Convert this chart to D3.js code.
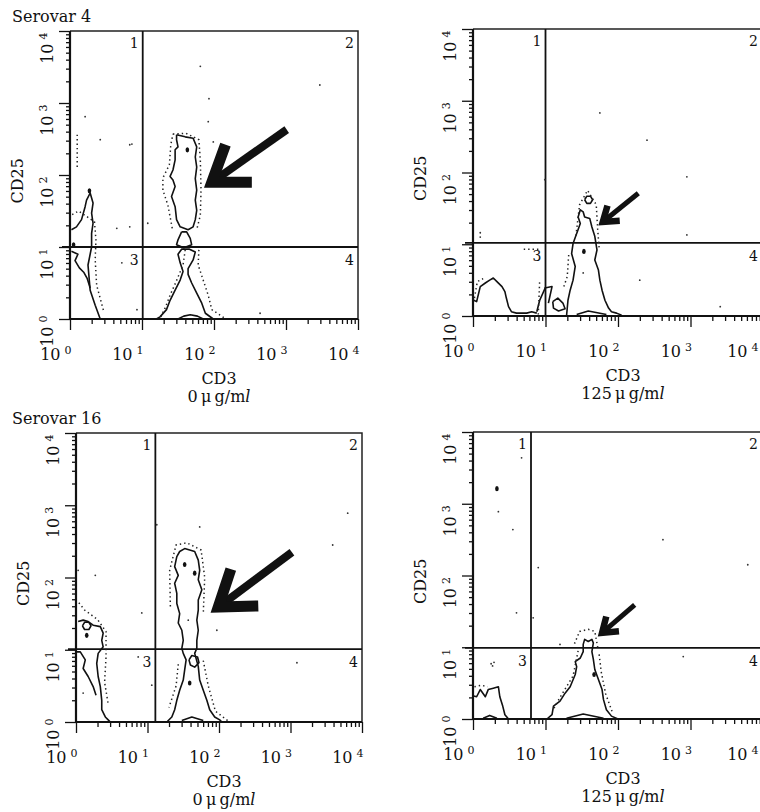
<!DOCTYPE html>
<html>
<head>
<meta charset="utf-8">
<script src="https://d3js.org/d3.v7.min.js"></script>
<style>
    body {
        margin: 0;
        background: #fff;
    }
    text {
        font-family: "DejaVu Serif", "Liberation Serif", serif;
        fill: #111;
    }
</style>
</head>
<body>
<svg id="fig" width="760" height="812"></svg>

<script>
    // ---- data ----
    // axis decades (fluorescence, log scale)
    const decades = [1, 10, 100, 1000, 10000];
    const decadeExp = ["0", "1", "2", "3", "4"];
    const quadrantNums = ["1", "2", "3", "4"];
    const serovars = ["Serovar 4", "", "Serovar 16", ""];
    const doses = ["0", "125", "0", "125"];

    // all points below are [log10 CD3, log10 CD25]
    // quadrant cursors
    const gates = [[1.01, 1.0], [1.0, 1.02], [1.11, 1.01], [0.80, 0.99]];

    // Serovar 4, 0 ug/ml
    const p1Contours = [
        [[1.48, 2.56], [1.60, 2.53], [1.71, 2.51], [1.76, 2.39], [1.74, 2.25], [1.76, 2.11], [1.74, 1.95], [1.76, 1.79], [1.74, 1.65], [1.76, 1.51], [1.74, 1.38], [1.71, 1.28], [1.64, 1.24], [1.53, 1.28], [1.48, 1.38], [1.46, 1.56], [1.41, 1.70], [1.46, 1.84], [1.43, 1.93], [1.39, 1.98], [1.43, 2.07], [1.46, 2.21], [1.46, 2.35], [1.50, 2.39], [1.48, 2.49], [1.48, 2.56]],
        [[1.55, 1.21], [1.50, 1.10], [1.48, 1.03], [1.58, 0.99], [1.69, 1.03], [1.67, 1.12], [1.62, 1.21], [1.55, 1.21]],
        [[1.20, 0], [1.25, 0.03], [1.34, 0.13], [1.39, 0.26], [1.46, 0.40], [1.53, 0.54], [1.57, 0.66], [1.53, 0.78], [1.50, 0.90], [1.55, 0.97], [1.66, 0.97], [1.74, 0.93], [1.71, 0.82], [1.64, 0.70], [1.64, 0.62], [1.69, 0.50], [1.76, 0.36], [1.83, 0.22], [1.88, 0.08], [1.99, 0]],
        [[1.50, 0], [1.58, 0.04], [1.67, 0.06], [1.77, 0.04], [1.85, 0]],
        [[0.02, 1.24], [0.09, 1.28], [0.16, 1.38], [0.21, 1.56], [0.23, 1.65], [0.28, 1.75], [0.32, 1.61], [0.30, 1.47], [0.32, 1.33], [0.30, 1.19], [0.30, 1.0], [0.25, 0.75], [0.28, 0.40], [0.35, 0.19], [0.42, 0]],
        [[0.02, 0.94], [0.11, 0.90], [0.07, 0.81], [0.13, 0.71], [0.19, 0.65], [0.24, 0.56], [0.28, 0.43]]
    ];
    const p1Dotted = [
        [[1.43, 2.57], [1.61, 2.58], [1.79, 2.49], [1.81, 2.21], [1.82, 1.79], [1.81, 1.44], [1.76, 1.24]],
        [[1.42, 1.26], [1.36, 1.58], [1.29, 1.79], [1.29, 1.96], [1.38, 2.14], [1.40, 2.42], [1.43, 2.57]],
        [[1.60, 0.96], [1.57, 0.75], [1.47, 0.51], [1.39, 0.33], [1.32, 0.15], [1.25, 0.01]],
        [[1.79, 0.96], [1.78, 0.75], [1.85, 0.54], [1.92, 0.33], [1.97, 0.13], [2.15, 0.01]],
        [[0.03, 1.45], [0.12, 1.50], [0.34, 1.35], [0.36, 1.10], [0.35, 0.82], [0.37, 0.47], [0.47, 0.10]],
        [[0.10, 2.56], [0.10, 2.07]]
    ];
    const p1Events = [[1.93, 3.06], [1.92, 2.74], [0.21, 2.81], [0.86, 2.43], [1.99, 2.46], [0.42, 2.49], [0.83, 2.42], [1.81, 3.51], [2.64, 0.08], [0.65, 1.26], [0.83, 1.28], [0.72, 0.78], [1.08, 1.33], [0.93, 0.13], [3.47, 3.25]];
    const p1Blots = [[0.27, 1.78], [0.05, 1.03], [1.63, 2.35]];

    // Serovar 4, 125 ug/ml
    const p2Contours = [
        [[1.29, 0], [1.31, 0.22], [1.34, 0.36], [1.38, 0.50], [1.41, 0.69], [1.36, 0.87], [1.38, 1.01], [1.43, 1.15], [1.48, 1.29], [1.45, 1.38], [1.48, 1.48], [1.52, 1.45], [1.54, 1.38], [1.61, 1.36], [1.64, 1.24], [1.68, 1.11], [1.71, 0.92], [1.68, 0.78], [1.73, 0.64], [1.75, 0.50], [1.78, 0.36], [1.82, 0.22], [1.87, 0.11], [1.91, 0.06], [1.98, 0.04], [2.05, 0.01]],
        [[1.54, 1.62], [1.57, 1.67], [1.62, 1.67], [1.65, 1.62], [1.62, 1.57], [1.57, 1.57], [1.54, 1.62]],
        [[0.99, 0.39], [1.09, 0.41], [1.04, 0.18]],
        [[0.88, 0.06], [0.92, 0.22], [1.0, 0.40]],
        [[1.10, 0.20], [1.17, 0.25], [1.24, 0.18], [1.27, 0.10], [1.18, 0.07], [1.11, 0.11], [1.10, 0.20]],
        [[0.01, 0.22], [0.05, 0.20], [0.10, 0.41], [0.17, 0.46], [0.23, 0.50], [0.28, 0.53], [0.33, 0.48], [0.40, 0.41], [0.44, 0.34], [0.46, 0.25], [0.49, 0.13], [0.53, 0.06], [0.60, 0.04], [0.74, 0.04], [0.81, 0.06], [0.88, 0.04]],
        [[1.43, 0.02], [1.59, 0.07], [1.84, 0.02]]
    ];
    const p2Dotted = [
        [[1.42, 1.12], [1.47, 1.55], [1.58, 1.75], [1.70, 1.55], [1.72, 1.20], [1.74, 0.95]],
        [[1.32, 0.85], [1.30, 0.55], [1.25, 0.40]],
        [[0.90, 0.02], [0.91, 0.25], [0.92, 0.50]],
        [[0.02, 0.25], [0.06, 0.48], [0.14, 0.52]],
        [[0.70, 0.93], [0.92, 0.93]]
    ];
    const p2Events = [[1.75, 2.83], [2.95, 1.94], [2.40, 2.45], [0.99, 1.90], [2.30, 0.50], [3.41, 0.13], [2.95, 1.13], [1.52, 0.60], [1.52, 0.89], [0.10, 1.16], [0.10, 1.10]];
    const p2Blots = [[1.53, 0.90]];

    // Serovar 16, 0 ug/ml
    const p3Contours = [
        [[1.27, 0], [1.34, 0.07], [1.38, 0.17], [1.41, 0.30], [1.45, 0.44], [1.50, 0.58], [1.52, 0.72], [1.54, 0.86], [1.50, 0.95], [1.48, 1.02], [1.50, 1.13], [1.48, 1.27], [1.43, 1.37], [1.45, 1.50], [1.41, 1.64], [1.41, 1.78], [1.38, 1.92], [1.43, 2.03], [1.38, 2.15], [1.41, 2.29], [1.45, 2.36], [1.52, 2.40], [1.66, 2.36], [1.71, 2.24], [1.73, 2.10], [1.71, 1.97], [1.76, 1.83], [1.71, 1.69], [1.71, 1.55], [1.69, 1.41], [1.71, 1.27], [1.69, 1.13], [1.69, 1.02], [1.66, 0.95], [1.71, 0.77], [1.73, 0.58], [1.78, 0.44], [1.83, 0.30], [1.87, 0.17], [1.94, 0.07], [2.01, 0.03], [2.04, 0]],
        [[1.58, 0.86], [1.62, 0.92], [1.70, 0.90], [1.72, 0.82], [1.66, 0.76], [1.60, 0.79], [1.58, 0.86]],
        [[1.48, 0.02], [1.62, 0.07], [1.78, 0.02]],
        [[0.03, 1.39], [0.10, 1.41], [0.17, 1.39], [0.24, 1.34], [0.34, 1.32], [0.38, 1.23], [0.36, 1.13], [0.38, 1.04], [0.31, 0.95], [0.29, 0.81], [0.31, 0.63], [0.34, 0.49], [0.36, 0.30], [0.36, 0.17], [0.41, 0.07], [0.45, 0.03], [0.48, 0]],
        [[0.01, 0.97], [0.06, 0.97], [0.13, 0.86], [0.10, 0.74], [0.17, 0.63], [0.24, 0.49], [0.28, 0.37]],
        [[0.09, 1.33], [0.12, 1.38], [0.18, 1.38], [0.21, 1.33], [0.18, 1.28], [0.12, 1.28], [0.09, 1.33]]
    ];
    const p3Dotted = [
        [[1.32, 1.60], [1.31, 2.10], [1.40, 2.45], [1.55, 2.48], [1.75, 2.38], [1.80, 2.00], [1.78, 1.50]],
        [[1.78, 0.85], [1.85, 0.50], [1.95, 0.15], [2.12, 0.02]],
        [[1.43, 0.80], [1.40, 0.50], [1.30, 0.20]],
        [[0.04, 1.65], [0.12, 1.55], [0.30, 1.42], [0.42, 1.25], [0.42, 0.90], [0.40, 0.55], [0.45, 0.25]]
    ];
    const p3Events = [[3.80, 2.89], [0.03, 2.10], [1.13, 2.73], [3.59, 2.45], [0.27, 2.03], [0.92, 1.51], [0.87, 0.90], [1.57, 1.41], [0.10, 0.40], [1.97, 1.27], [3.09, 0.82], [1.06, 0.51], [1.73, 2.70]];
    const p3Blots = [[1.66, 2.06], [1.52, 2.18], [1.59, 0.54], [0.15, 1.20]];

    // Serovar 16, 125 ug/ml
    const p4Contours = [
        [[1.02, 0], [1.09, 0.06], [1.11, 0.18], [1.20, 0.25], [1.27, 0.36], [1.34, 0.45], [1.41, 0.62], [1.43, 0.73], [1.41, 0.80], [1.48, 0.85], [1.52, 0.94], [1.52, 1.04], [1.54, 1.11], [1.59, 1.08], [1.64, 1.11], [1.66, 1.06], [1.64, 0.94], [1.66, 0.83], [1.68, 0.69], [1.73, 0.55], [1.78, 0.41], [1.80, 0.27], [1.84, 0.13], [1.91, 0.04], [2.00, 0]],
        [[0.01, 0.32], [0.05, 0.31], [0.10, 0.41], [0.17, 0.31], [0.21, 0.41], [0.28, 0.43], [0.35, 0.45], [0.37, 0.31], [0.41, 0.18], [0.44, 0.06], [0.49, 0]],
        [[0.14, 0.01], [0.23, 0.05], [0.33, 0.01]],
        [[1.29, 0.01], [1.52, 0.07], [1.80, 0.01]]
    ];
    const p4Dotted = [
        [[1.40, 1.05], [1.47, 1.22], [1.59, 1.25], [1.68, 1.22], [1.72, 1.0]],
        [[1.45, 0.95], [1.38, 0.60], [1.20, 0.30], [1.10, 0.12]],
        [[1.74, 0.90], [1.77, 0.65], [1.83, 0.35], [1.92, 0.10]],
        [[0.02, 0.45], [0.12, 0.47], [0.20, 0.45]]
    ];
    const p4Events = [[0.35, 2.89], [0.67, 3.64], [0.55, 2.64], [0.90, 2.11], [2.62, 2.50], [3.79, 2.15], [0.83, 1.41], [0.60, 1.48], [1.20, 1.04], [2.90, 0.87], [0.25, 0.77], [0.29, 0.79], [0.27, 0.74]];
    const p4Blots = [[0.33, 3.21], [1.67, 0.62]];

    // arrows pointing at the CD3+ population: tip, tail
    const arrowTips = [[1.97, 1.90], [1.79, 1.31], [1.99, 1.59], [1.78, 1.20]];
    const arrowTails = [[3.01, 2.63], [2.28, 1.71], [3.02, 2.35], [2.23, 1.59]];

    const contours = [p1Contours, p2Contours, p3Contours, p4Contours];
    const dotted = [p1Dotted, p2Dotted, p3Dotted, p4Dotted];
    const events = [p1Events, p2Events, p3Events, p4Events];
    const blots = [p1Blots, p2Blots, p3Blots, p4Blots];

    // ---- layout ----
    const W = 760;
    const boxes = [
        { x: 70, y: 31, w: 288, h: 288 },
        { x: 473, y: 29, w: 290, h: 287 },
        { x: 76, y: 433, w: 286, h: 289 },
        { x: 473, y: 432, w: 290, h: 287 }
    ];
    // arrow head: [arm length, arm width, shaft width]
    const arrowStyle = [[40, 11, 8], [17, 6.5, 5], [40, 11, 8], [17, 6.5, 5]];

    const svg = d3.select("#fig");

    // "10" with a raised exponent
    function powLabel(sel) {
        sel.each(function(d, k) {
            const t = d3.select(this);
            t.append("tspan").text("10");
            t.append("tspan").attr("dx", 4).attr("dy", -6).attr("font-size", 11).text(decadeExp[k]);
        });
    }

    function drawPanel(i) {
        const b = boxes[i];
        const x = d3.scaleLog().domain([1, 1e4]).range([b.x, b.x + b.w]);
        const y = d3.scaleLog().domain([1, 1e4]).range([b.y + b.h, b.y]);
        const px = d => x(Math.pow(10, d[0]));
        const py = d => y(Math.pow(10, d[1]));
        const g = svg.append("g");

        const minor = x.ticks().filter(v => !decades.includes(v));

        // minor ticks
        g.append("g")
            .attr("transform", "translate(0," + (b.y + b.h) + ")")
            .call(d3.axisBottom(x).tickValues(minor).tickSize(5).tickFormat(""))
            .call(a => a.select(".domain").remove());
        g.append("g")
            .attr("transform", "translate(" + b.x + ",0)")
            .call(d3.axisLeft(y).tickValues(minor).tickSize(4).tickFormat(""))
            .call(a => a.select(".domain").remove());

        // major ticks + labels
        const xa = g.append("g")
            .attr("transform", "translate(0," + (b.y + b.h) + ")")
            .call(d3.axisBottom(x).tickValues(decades).tickSize(11).tickFormat(""))
            .call(a => a.select(".domain").remove());
        const ya = g.append("g")
            .attr("transform", "translate(" + b.x + ",0)")
            .call(d3.axisLeft(y).tickValues(decades).tickSize(11).tickFormat(""))
            .call(a => a.select(".domain").remove());
        g.selectAll(".tick line").attr("stroke", "#111").attr("stroke-width", 1.3);

        xa.selectAll(".tick").append("text")
            .attr("x", d => Math.min(1, W - 2 - x(d)))
            .attr("y", 41)
            .attr("text-anchor", "end")
            .attr("font-size", 16)
            .call(powLabel);
        ya.selectAll(".tick").append("text")
            .attr("transform", (d, k) => "translate(-17," + (k === 0 ? -4 : 1) + ") rotate(-90)")
            .attr("text-anchor", "end")
            .attr("font-size", 16)
            .call(powLabel);

        // frame
        g.append("path")
            .attr("d", "M" + b.x + "," + b.y + "H" + (b.x + b.w) + "V" + (b.y + b.h))
            .attr("fill", "none").attr("stroke", "#222").attr("stroke-width", 1.5);
        g.append("path")
            .attr("d", "M" + b.x + "," + b.y + "V" + (b.y + b.h) + "H" + (b.x + b.w))
            .attr("fill", "none").attr("stroke", "#111").attr("stroke-width", 2.2);

        // quadrant cursors
        const gx = px(gates[i]), gy = py(gates[i]);
        g.append("line").attr("x1", gx).attr("x2", gx).attr("y1", b.y).attr("y2", b.y + b.h)
            .attr("stroke", "#111").attr("stroke-width", 1.8);
        g.append("line").attr("x1", b.x - 8).attr("x2", b.x + b.w).attr("y1", gy).attr("y2", gy)
            .attr("stroke", "#111").attr("stroke-width", 1.8);

        const rx = Math.min(b.x + b.w - 4, W - 2);
        const qpos = [[gx - 4, b.y + 17], [rx, b.y + 17], [gx - 4, gy + 18], [rx, gy + 18]];
        g.selectAll(".qn").data(quadrantNums).join("text")
            .attr("x", (d, k) => qpos[k][0])
            .attr("y", (d, k) => qpos[k][1])
            .attr("text-anchor", "end")
            .attr("font-size", 14)
            .text(d => d);

        // contours
        const line = d3.line().x(px).y(py);
        g.selectAll(".ct").data(contours[i]).join("path")
            .attr("d", line)
            .attr("fill", "none")
            .attr("stroke", "#111")
            .attr("stroke-width", 1.6)
            .attr("stroke-linejoin", "round");
        g.selectAll(".dt").data(dotted[i]).join("path")
            .attr("d", line)
            .attr("fill", "none")
            .attr("stroke", "#222")
            .attr("stroke-width", 1.5)
            .attr("stroke-dasharray", "1.4,3");
        g.selectAll(".ev").data(events[i]).join("circle")
            .attr("cx", px).attr("cy", py).attr("r", 0.9).attr("fill", "#333");
        g.selectAll(".bl").data(blots[i]).join("ellipse")
            .attr("cx", px).attr("cy", py).attr("rx", 1.8).attr("ry", 2.6).attr("fill", "#111");

        // arrow
        const [L, hw, sw] = arrowStyle[i];
        const tip = [px(arrowTips[i]), py(arrowTips[i])];
        const tail = [px(arrowTails[i]), py(arrowTails[i])];
        const ang = Math.atan2(tail[1] - tip[1], tail[0] - tip[0]);
        const a = 35 * Math.PI / 180;
        const w1 = [tip[0] + L * Math.cos(ang - a), tip[1] + L * Math.sin(ang - a)];
        const w2 = [tip[0] + L * Math.cos(ang + a), tip[1] + L * Math.sin(ang + a)];
        const s0 = [tip[0] + hw * 0.6 * Math.cos(ang), tip[1] + hw * 0.6 * Math.sin(ang)];
        g.append("path")
            .attr("d", "M" + s0 + "L" + tail)
            .attr("stroke", "#111").attr("stroke-width", sw).attr("fill", "none");
        g.append("path")
            .attr("d", "M" + w1 + "L" + tip + "L" + w2)
            .attr("stroke", "#111").attr("stroke-width", hw).attr("fill", "none")
            .attr("stroke-linejoin", "miter").attr("stroke-miterlimit", 10);

        // titles
        g.append("text")
            .attr("transform", "translate(" + (b.x - 47) + "," + (b.y + b.h * 0.52) + ") rotate(-90)")
            .attr("text-anchor", "middle")
            .attr("font-size", 16)
            .text("CD25");
        const cx = x(100) + 5;
        g.append("text")
            .attr("x", cx).attr("y", b.y + b.h + 65)
            .attr("text-anchor", "middle")
            .attr("font-size", 16)
            .text("CD3");
        const dose = g.append("text")
            .attr("x", cx).attr("y", b.y + b.h + 83)
            .attr("text-anchor", "middle")
            .attr("font-size", 16);
        dose.append("tspan").text(doses[i] + "\u2009\u03bc\u2009g/m");
        dose.append("tspan").attr("font-style", "italic").text("l");
        if (serovars[i]) {
            g.append("text")
                .attr("x", 12).attr("y", b.y - 9)
                .attr("font-size", 16)
                .text(serovars[i]);
        }
    }

    d3.range(4).forEach(drawPanel);
</script>
</body>
</html>
